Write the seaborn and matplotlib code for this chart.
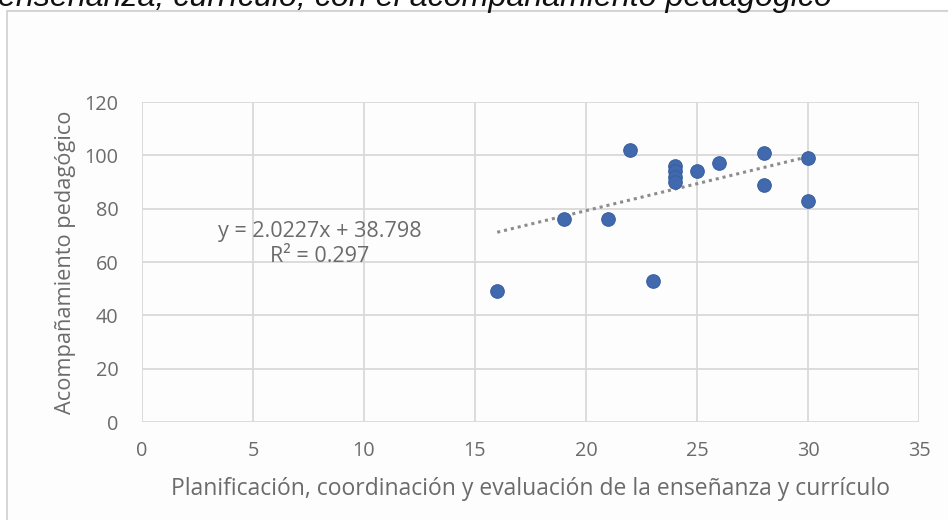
import matplotlib
matplotlib.use("Agg")
import matplotlib.pyplot as plt
import seaborn as sns
import numpy as np
import pandas as pd
from matplotlib.patches import Rectangle

# ---- data ----
planificacion = [16, 19, 21, 22, 23, 24, 24, 24, 24, 25, 26, 28, 28, 30, 30]
acompanamiento = [49, 76, 76, 102, 53, 96, 94, 92, 90, 94, 97, 101, 89, 99, 83]
trend_slope = 2.0227
trend_intercept = 38.798
r_squared = 0.297
x_ticks = [0, 5, 10, 15, 20, 25, 30, 35]
y_ticks = [0, 20, 40, 60, 80, 100, 120]
title_text = "enseñanza, currículo, con el acompañamiento pedagógico"
x_label = "Planificación, coordinación y evaluación de la enseñanza y currículo"
y_label = "Acompañamiento pedagógico"

df = pd.DataFrame({"x": planificacion, "y": acompanamiento})
tx = np.array([min(planificacion), max(planificacion)], dtype=float)
trend = pd.DataFrame({"x": tx, "y": trend_slope * tx + trend_intercept})

sns.set_theme(style="white")
plt.rcParams["font.family"] = ["Open Sans", "DejaVu Sans"]

W, H = 948, 520
fig = plt.figure(figsize=(W / 100, H / 100), dpi=100)
fig.patch.set_facecolor("white")

# outer chart frame (extends past right/bottom edges)
shadow = Rectangle((9 / W, -0.1), 1.2, 1 - 12 / H + 0.1, transform=fig.transFigure,
                   facecolor="none", edgecolor="#e6e6e6", linewidth=3, zorder=-2)
frame = Rectangle((7 / W, -0.1), 1.2, 1 - 11 / H + 0.1, transform=fig.transFigure,
                  facecolor="#fdfdfd", edgecolor="#cfcfcf", linewidth=1.2, zorder=-1)
fig.patches.extend([shadow, frame])

# cut-off title at top
fig.text(-0.002, 1 - 6 / H, title_text, fontsize=23.2, fontstyle="italic",
         family=["Liberation Sans", "DejaVu Sans"], color="#111111",
         ha="left", va="baseline")

ax = fig.add_axes([142 / W, 1 - 422 / H, (919 - 142) / W, (422 - 102) / H])
ax.set_facecolor("none")

sns.lineplot(data=trend, x="x", y="y", ax=ax, color="#8c8c8c", linewidth=2.2,
             linestyle=(0, (1, 1.3)), zorder=2)
sns.scatterplot(data=df, x="x", y="y", ax=ax, color="#4169ad", edgecolor="#3a5f9f",
                s=95, linewidth=0.8, zorder=3)

ax.set_xlim(0, 35)
ax.set_ylim(0, 120)
ax.set_xticks(x_ticks)
ax.set_yticks(y_ticks)
ax.grid(True, color="#d9d9d9", linewidth=1.3)
for sp in ax.spines.values():
    sp.set_visible(False)
ax.tick_params(axis="both", length=0, labelsize=14.3, labelcolor="#6b6b6b")
ax.tick_params(axis="x", pad=14)
ax.tick_params(axis="y", pad=17)
ax.set_xlabel(x_label, fontsize=16.5, color="#6b6b6b", labelpad=11)
ax.set_ylabel(y_label, fontsize=15.7, color="#6b6b6b", labelpad=6)

ax.text(8.0, 71.5, f"y = {trend_slope}x + {trend_intercept}", fontsize=15.5,
        color="#6b6b6b", ha="center", va="center")
ax.text(8.0, 62, f"R² = {r_squared}", fontsize=15.5, color="#6b6b6b",
        ha="center", va="center")

fig.savefig("out.png", dpi=100)
